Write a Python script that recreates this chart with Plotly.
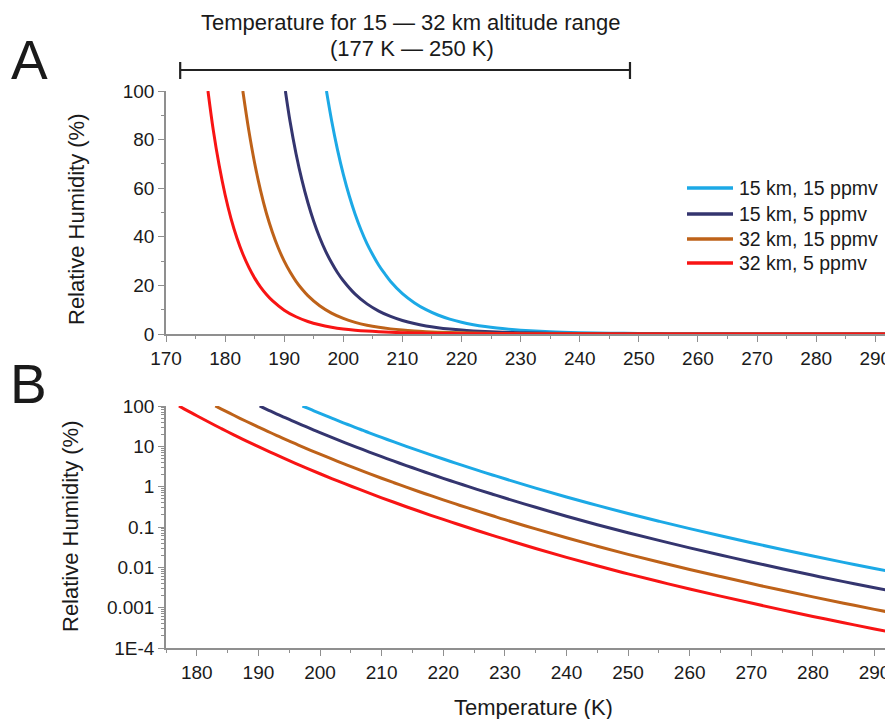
import plotly.graph_objects as go

# ---------------- data ----------------
series_names = ["15 km, 15 ppmv", "15 km, 5 ppmv", "32 km, 15 ppmv", "32 km, 5 ppmv"]
series_colors = ["#1CA9E6", "#34356F", "#BE6219", "#F81414"]

temp_15km_15ppmv = [197.15, 198, 199, 200, 201, 202, 203, 204, 205, 206, 207, 208,
                    210, 212, 214, 216, 218, 220, 222, 224, 226, 228, 230,
                    235, 240, 245, 250, 255, 260, 265, 270, 275, 280, 285, 290, 293]
rh_15km_15ppmv = [100, 88.1, 76.0, 65.7, 56.9, 49.3, 42.8, 37.2, 32.5, 28.3, 24.8, 21.6,
                  16.6, 12.9, 10.0, 7.82, 6.14, 4.84, 3.84, 3.05, 2.43, 1.95, 1.567,
                  0.923, 0.556, 0.343, 0.216, 0.139, 0.0912, 0.0606, 0.0407, 0.0277, 0.0191,
                  0.01326, 0.00933, 0.00760]

temp_15km_5ppmv = [190.2, 191, 192, 193, 194, 195, 196, 197, 198, 199, 200,
                   202, 204, 206, 208, 210, 212, 214, 216, 218, 220, 222, 224, 226, 228, 230,
                   235, 240, 245, 250, 255, 260, 265, 270, 275, 280, 285, 290, 293]
rh_15km_5ppmv = [100, 87.3, 74.2, 63.3, 54.1, 46.3, 39.7, 34.1, 29.4, 25.3, 21.9,
                 16.4, 12.4, 9.44, 7.22, 5.55, 4.29, 3.33, 2.61, 2.05, 1.61, 1.279, 1.017,
                 0.811, 0.650, 0.522,
                 0.308, 0.185, 0.114, 0.0721, 0.0465, 0.0304, 0.0202, 0.0136, 0.00924,
                 0.00635, 0.00442, 0.00311, 0.00254]

temp_32km_15ppmv = [183.0, 184, 185, 186, 187, 188, 189, 190, 191, 192, 193, 194,
                    196, 198, 200, 202, 204, 206, 208, 210, 212, 214, 216, 218, 220, 222,
                    224, 226, 228, 230,
                    235, 240, 245, 250, 255, 260, 265, 270, 275, 280, 285, 290, 293]
rh_32km_15ppmv = [100, 83.9, 70.3, 59.0, 49.6, 41.9, 35.4, 30.0, 25.5, 21.7, 18.5, 15.8,
                  11.6, 8.57, 6.39, 4.80, 3.62, 2.75, 2.106, 1.619, 1.252, 0.973, 0.760,
                  0.597, 0.471, 0.373, 0.297, 0.237, 0.190, 0.152,
                  0.0897, 0.0541, 0.0333, 0.0210, 0.01355, 0.00887, 0.00590, 0.00396,
                  0.00269, 0.00185, 0.00129, 0.000908, 0.000740]

temp_32km_5ppmv = [177.1, 178, 179, 180, 181, 182, 183, 184, 185, 186, 187, 188,
                   190, 192, 194, 196, 198, 200, 202, 204, 206, 208, 210, 212, 214, 216,
                   218, 220, 222, 224, 226, 228, 230,
                   235, 240, 245, 250, 255, 260, 265, 270, 275, 280, 285, 290, 293]
rh_32km_5ppmv = [100, 83.9, 69.3, 57.3, 47.5, 39.5, 32.9, 27.5, 23.0, 19.3, 16.25, 13.7,
                 9.81, 7.09, 5.16, 3.79, 2.81, 2.09, 1.57, 1.186, 0.902, 0.689, 0.530,
                 0.410, 0.318, 0.249, 0.195, 0.154, 0.122, 0.0971, 0.0774, 0.0621, 0.0499,
                 0.0294, 0.0177, 0.0109, 0.00689, 0.00444, 0.00290, 0.00193, 0.00130,
                 0.000882, 0.000607, 0.000422, 0.000297, 0.000242]

series_temps = [temp_15km_15ppmv, temp_15km_5ppmv, temp_32km_15ppmv, temp_32km_5ppmv]
series_rh = [rh_15km_15ppmv, rh_15km_5ppmv, rh_32km_15ppmv, rh_32km_5ppmv]

a_x_ticks = [170, 180, 190, 200, 210, 220, 230, 240, 250, 260, 270, 280, 290]
b_x_ticks = [180, 190, 200, 210, 220, 230, 240, 250, 260, 270, 280, 290]
a_y_ticks = [0, 20, 40, 60, 80, 100]
b_y_tickvals = [1e-4, 1e-3, 1e-2, 1e-1, 1, 10, 100]
b_y_ticktext = ["1E-4", "0.001", "0.01", "0.1", "1", "10", "100"]
bracket_temps = [172.4, 248.5]

# ---------------- figure ----------------
OFF = 8                      # page body margin
FW, FH = 893 - OFF, 719 - OFF
FONT = "Liberation Sans, Arial, sans-serif"
AXC = "#8f8f8f"
TXT = "#1a1a1a"

def px_x(s):
    return (s - OFF) / FW

def py(s):
    return 1 - (s - OFF) / FH

fig = go.Figure()
for name, col, t, rh in zip(series_names, series_colors, series_temps, series_rh):
    fig.add_trace(go.Scatter(x=t, y=rh, mode="lines", name=name,
                             line=dict(color=col, width=3, shape="spline"),
                             xaxis="x", yaxis="y", showlegend=False))
for name, col, t, rh in zip(series_names, series_colors, series_temps, series_rh):
    fig.add_trace(go.Scatter(x=t, y=rh, mode="lines", name=name,
                             line=dict(color=col, width=3, shape="spline"),
                             xaxis="x2", yaxis="y2", showlegend=False))

common_axis = dict(showline=True, linecolor=AXC, linewidth=1.5, ticks="outside",
                   ticklen=6, tickwidth=1.3, tickcolor=AXC, showgrid=False,
                   zeroline=False, mirror=False, automargin=False,
                   tickfont=dict(size=19, color=TXT, family=FONT))

x_dom = [px_x(166), 1.0]

fig.update_layout(
    template="none",
    width=FW, height=FH,
    margin=dict(l=0, r=0, t=0, b=0, pad=0, autoexpand=False),
    paper_bgcolor="white", plot_bgcolor="white",
    font=dict(family=FONT, color=TXT),
    showlegend=False,
    xaxis=dict(domain=x_dom, range=[170, 293], anchor="y", tickvals=a_x_ticks,
               minor=dict(ticks="outside", ticklen=3, dtick=5, tick0=170,
                          tickcolor=AXC, showgrid=False),
               **common_axis),
    yaxis=dict(domain=[py(334), py(91)], range=[0, 100], anchor="x", tickvals=a_y_ticks,
               minor=dict(ticks="outside", ticklen=3, dtick=10, tick0=0,
                          tickcolor=AXC, showgrid=False),
               **common_axis),
    xaxis2=dict(domain=x_dom, range=[175, 293], anchor="y2", tickvals=b_x_ticks,
                minor=dict(ticks="outside", ticklen=3, dtick=5, tick0=175,
                           tickcolor=AXC, showgrid=False),
                **common_axis),
    yaxis2=dict(domain=[py(648), py(406)], type="log", range=[-4, 2], anchor="x2",
                tickvals=b_y_tickvals, ticktext=b_y_ticktext,
                minor=dict(ticks="outside", ticklen=3, dtick="D1",
                           tickcolor=AXC, showgrid=False),
                **common_axis),
)

def label(text, x, y, size, angle=0, xanchor="center"):
    fig.add_annotation(text=text, x=px_x(x), y=py(y), xref="paper", yref="paper",
                       xanchor=xanchor, yanchor="middle", showarrow=False,
                       textangle=angle, font=dict(size=size, family=FONT, color=TXT))

# axis titles
label("Relative Humidity (%)", 76, 219, 22, -90)
label("Relative Humidity (%)", 70, 526, 22, -90)
label("Temperature (K)", 533, 707, 22)

# panel letters
label("A", 29, 60, 55)
label("B", 28, 384, 55)

# altitude range header
label("Temperature for 15 \u2014 32 km altitude range", 410, 22, 22)
label("(177 K \u2014 250 K)", 412, 48, 22)

# bracket
lo, hi = bracket_temps
fig.add_shape(type="line", xref="x", yref="paper", x0=lo, x1=hi, y0=py(70), y1=py(70),
              line=dict(color="#222", width=2.2))
for xv in bracket_temps:
    fig.add_shape(type="line", xref="x", yref="paper", x0=xv, x1=xv,
                  y0=py(62), y1=py(79), line=dict(color="#222", width=2.2))

# legend (key lines + labels)
legend_rows = [188, 214, 239, 263]
for name, col, row in zip(series_names, series_colors, legend_rows):
    fig.add_shape(type="line", xref="paper", yref="paper",
                  x0=px_x(687), x1=px_x(733), y0=py(row), y1=py(row),
                  line=dict(color=col, width=3.5))
    label(name, 737, row, 19.5, xanchor="left")

fig.write_html("out.html")
